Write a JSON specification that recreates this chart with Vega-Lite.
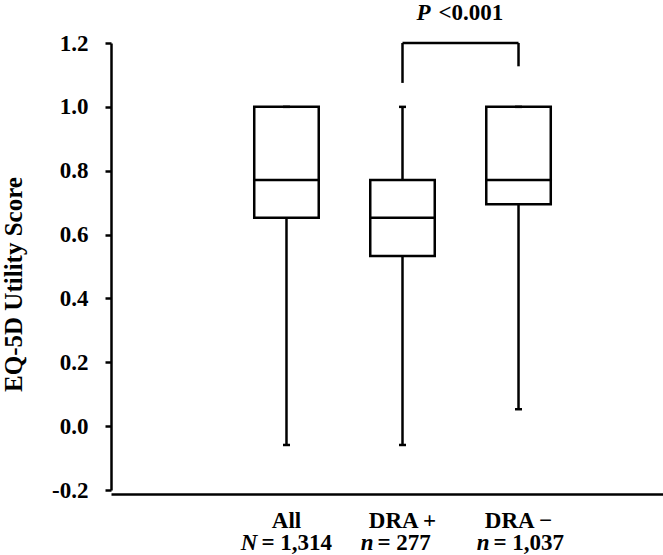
{
  "$schema": "https://vega.github.io/schema/vega-lite/v6.json",
  "width": 552,
  "height": 447,
  "autosize": {"type": "none"},
  "padding": {"left": 111, "top": 43, "right": 0, "bottom": 65},
  "background": "white",
  "config": {
    "font": "Liberation Serif",
    "view": {"stroke": null},
    "axis": {"grid": false, "domainColor": "black", "tickColor": "black", "labelColor": "black", "titleColor": "black"}
  },
  "datasets": {
    "boxes": [
      {"group": "All", "min": -0.059, "q1": 0.653, "median": 0.771, "q3": 1.0, "max": 1.0, "sym": "N", "rest": "= 1,314"},
      {"group": "DRA +", "min": -0.059, "q1": 0.533, "median": 0.653, "q3": 0.771, "max": 1.0, "sym": "n", "rest": "= 277"},
      {"group": "DRA −", "min": 0.053, "q1": 0.695, "median": 0.771, "q3": 1.0, "max": 1.0, "sym": "n", "rest": "= 1,037"}
    ],
    "legs": [
      {"group": "DRA +", "top": 1.2, "bottom": 1.075},
      {"group": "DRA −", "top": 1.2, "bottom": 1.127}
    ],
    "bar": [
      {"from": "DRA +", "to": "DRA −", "level": 1.2, "p": "P", "label": "<0.001"}
    ]
  },
  "encoding": {
    "x": {
      "field": "group",
      "type": "nominal",
      "sort": ["All", "DRA +", "DRA −"],
      "scale": {"type": "band", "domain": ["All", "DRA +", "DRA −"], "paddingInner": 0, "paddingOuter": 0.879, "align": 0.576},
      "axis": {
        "title": null,
        "orient": "bottom",
        "offset": 4,
        "domainWidth": 2.5,
        "ticks": false,
        "tickSize": 0,
        "labelAngle": 0,
        "labelFontSize": 23,
        "labelFontWeight": "bold",
        "labelBaseline": "alphabetic",
        "labelPadding": 33
      }
    }
  },
  "layer": [
    {
      "data": {"name": "boxes"},
      "mark": {"type": "rule", "color": "black", "strokeWidth": 2.5},
      "encoding": {
        "y": {
          "field": "min",
          "type": "quantitative",
          "scale": {"domain": [-0.2, 1.2], "nice": false, "zero": false},
          "axis": {
            "title": "EQ-5D Utility Score",
            "values": [-0.2, 0, 0.2, 0.4, 0.6, 0.8, 1.0, 1.2],
            "format": ".1f",
            "labelExpr": "replace(datum.label, '−', '-')",
            "domainWidth": 2.5,
            "tickSize": 6,
            "tickWidth": 2.5,
            "labelFontSize": 23,
            "labelFontWeight": "bold",
            "labelPadding": 17,
            "titleFontSize": 25,
            "titleFontWeight": "bold",
            "titleAngle": -90,
            "titleBaseline": "alphabetic",
            "titleAlign": "center",
            "titleX": -90,
            "titleY": 241
          }
        },
        "y2": {"field": "max"}
      }
    },
    {
      "data": {"name": "boxes"},
      "mark": {"type": "bar", "fill": "white", "stroke": "black", "strokeWidth": 2.5, "width": 64.5},
      "encoding": {
        "y": {"field": "q1", "type": "quantitative"},
        "y2": {"field": "q3"}
      }
    },
    {
      "data": {"name": "boxes"},
      "mark": {"type": "tick", "color": "black", "thickness": 2.5, "size": 67, "opacity": 1},
      "encoding": {"y": {"field": "median", "type": "quantitative"}}
    },
    {
      "data": {"name": "boxes"},
      "mark": {"type": "tick", "color": "black", "thickness": 2.5, "size": 7, "opacity": 1},
      "encoding": {"y": {"field": "min", "type": "quantitative"}}
    },
    {
      "data": {"name": "boxes"},
      "mark": {"type": "tick", "color": "black", "thickness": 2.5, "size": 7, "opacity": 1},
      "encoding": {"y": {"field": "max", "type": "quantitative"}}
    },
    {
      "data": {"name": "boxes"},
      "mark": {"type": "text", "font": "Liberation Serif", "fontSize": 23, "fontWeight": "bold", "fontStyle": "italic", "align": "right", "baseline": "alphabetic", "dx": -29, "dy": 60, "color": "black"},
      "encoding": {"y": {"datum": -0.2, "type": "quantitative"}, "text": {"field": "sym"}}
    },
    {
      "data": {"name": "boxes"},
      "mark": {"type": "text", "font": "Liberation Serif", "fontSize": 23, "fontWeight": "bold", "align": "left", "baseline": "alphabetic", "dx": -25, "dy": 60, "color": "black"},
      "encoding": {"y": {"datum": -0.2, "type": "quantitative"}, "text": {"field": "rest"}}
    },
    {
      "data": {"name": "legs"},
      "mark": {"type": "rule", "color": "black", "strokeWidth": 2.5},
      "encoding": {
        "y": {"field": "top", "type": "quantitative"},
        "y2": {"field": "bottom"}
      }
    },
    {
      "data": {"name": "bar"},
      "mark": {"type": "rule", "color": "black", "strokeWidth": 2.5},
      "encoding": {
        "x": {"field": "from", "type": "nominal"},
        "x2": {"field": "to"},
        "y": {"field": "level", "type": "quantitative"}
      }
    },
    {
      "data": {"name": "bar"},
      "mark": {"type": "text", "font": "Liberation Serif", "fontSize": 23, "fontWeight": "bold", "fontStyle": "italic", "align": "right", "baseline": "alphabetic", "dx": -30, "dy": -23, "color": "black"},
      "encoding": {
        "x": {"field": "from", "type": "nominal", "bandPosition": 1},
        "y": {"field": "level", "type": "quantitative"},
        "text": {"field": "p"}
      }
    },
    {
      "data": {"name": "bar"},
      "mark": {"type": "text", "font": "Liberation Serif", "fontSize": 23, "fontWeight": "bold", "align": "left", "baseline": "alphabetic", "dx": -22, "dy": -23, "color": "black"},
      "encoding": {
        "x": {"field": "from", "type": "nominal", "bandPosition": 1},
        "y": {"field": "level", "type": "quantitative"},
        "text": {"field": "label"}
      }
    }
  ]
}
